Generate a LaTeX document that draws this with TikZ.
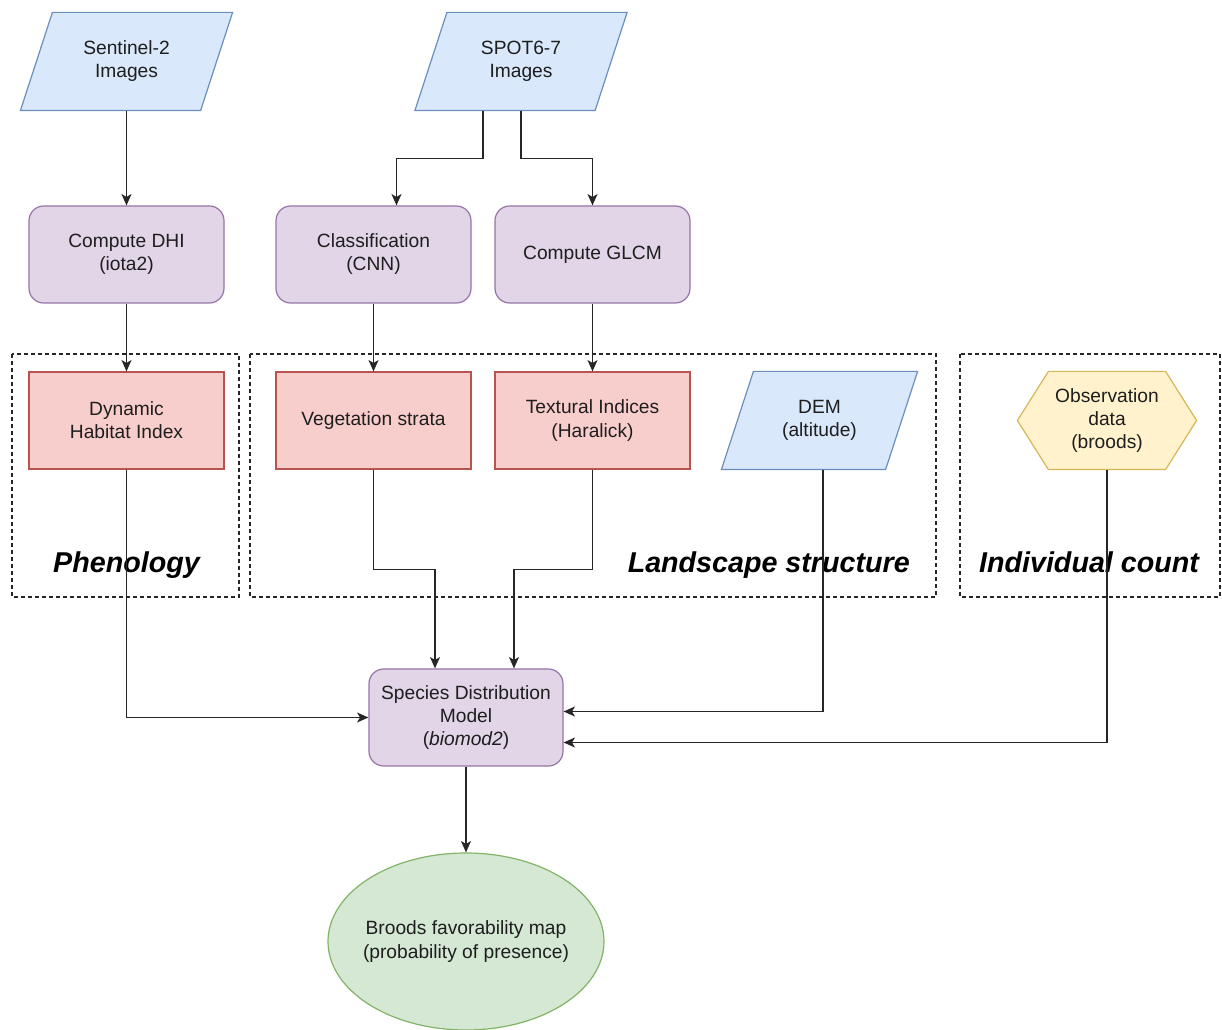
\documentclass[tikz,border=0pt]{standalone}
\usepackage{fontspec}
\setmainfont{Liberation Sans}
\usetikzlibrary{shapes.geometric,arrows.meta,backgrounds}
\definecolor{bfill}{HTML}{DAE8FC}
\definecolor{bstroke}{HTML}{6C8EBF}
\definecolor{pfill}{HTML}{E1D5E7}
\definecolor{pstroke}{HTML}{9673A6}
\definecolor{rfill}{HTML}{F8CECC}
\definecolor{rstroke}{HTML}{B85450}
\definecolor{yfill}{HTML}{FFF2CC}
\definecolor{ystroke}{HTML}{D6B656}
\definecolor{gfill}{HTML}{D5E8D4}
\definecolor{gstroke}{HTML}{82B366}
\definecolor{txt}{HTML}{1E1E1E}
\tikzset{
  base/.style={font=\fontsize{14.4}{17.3}\selectfont, text=txt, align=center, inner sep=0pt, line width=0.9pt},
  proc/.style={base, draw=pstroke, fill=pfill, rounded corners=11pt, minimum width=146.25pt, minimum height=72.75pt},
  prod/.style={base, draw=rstroke, fill=rfill, minimum width=146.25pt, minimum height=72.75pt},
  paranode/.style={base, minimum height=72.75pt},
  paraline/.style={fill=bfill, draw=bstroke, line width=0.9pt},
  frame/.style={draw=black!85, dash pattern=on 3pt off 2.25pt, line width=0.8pt},
  lbl/.style={font=\fontsize{21.5}{24}\selectfont\bfseries\itshape, text=black, inner sep=0pt, anchor=base},
  conn/.style={draw=black!85, line width=1.1pt, -{Stealth[length=8.5pt,width=7.5pt,inset=2.2pt]}},
}
\begin{document}
\begin{tikzpicture}[x=0.75pt,y=-0.75pt]
\useasboundingbox (0,0) rectangle (1222,1030);

% frames
\draw[frame] (12,354) rectangle (239,597);
\draw[frame] (250,354) rectangle (936,597);
\draw[frame] (960,354) rectangle (1220,597);

% frame labels
\node[lbl] (lphen) at (126.5,573) {Phenology};
\node[lbl, anchor=base east] (lland) at (910,573) {Landscape structure};
\node[lbl] (lind) at (1089,573) {Individual count};

% inputs
\node[paranode, minimum width=158.25pt] (s2) at (126.5,61.5) {Sentinel-2\\Images};
\node[paranode, minimum width=158.25pt] (spot) at (521,61.5) {SPOT6-7\\Images};
\node[paranode, minimum width=146.25pt] (dem) at (819.5,420.5) {DEM\\(altitude)};
\node[base, minimum width=133.5pt, minimum height=72.75pt] (obs) at (1107,420.5) {Observation\\data\\(broods)};

\begin{scope}[on background layer]
  \draw[paraline] ([xshift=24pt]s2.north west) -- (s2.north east) -- ([xshift=-24pt]s2.south east) -- (s2.south west) -- cycle;
  \draw[paraline] ([xshift=24pt]spot.north west) -- (spot.north east) -- ([xshift=-24pt]spot.south east) -- (spot.south west) -- cycle;
  \draw[paraline] ([xshift=24pt]dem.north west) -- (dem.north east) -- ([xshift=-24pt]dem.south east) -- (dem.south west) -- cycle;
  \draw[fill=yfill, draw=ystroke, line width=0.9pt] (obs.west) -- ([xshift=23.25pt]obs.north west) -- ([xshift=-23.25pt]obs.north east) -- (obs.east) -- ([xshift=-23.25pt]obs.south east) -- ([xshift=23.25pt]obs.south west) -- cycle;
\end{scope}

% processes
\node[proc] (dhi) at (126.5,254.5) {Compute DHI\\(iota2)};
\node[proc] (cls) at (373.5,254.5) {Classification\\(CNN)};
\node[proc] (glcm) at (592.5,254.5) {Compute GLCM};

% products
\node[prod] (dyn) at (126.5,420.5) {Dynamic\\Habitat Index};
\node[prod] (veg) at (373.5,420.5) {Vegetation strata};
\node[prod] (tex) at (592.5,420.5) {Textural Indices\\(Haralick)};

% model and output
\node[proc, minimum width=145.5pt] (sdm) at (466,717.5) {Species Distribution\\Model\\(\textit{biomod2})};
\node[base, ellipse, draw=gstroke, fill=gfill, minimum width=207pt, minimum height=132.75pt] (map) at (466,941.5) {};
\node[base] (maptext) at (map.center) {Broods favorability map\\(probability of presence)};

% connectors
\draw[conn] (s2.south) -- (dhi.north);
\draw[conn] ([xshift=-28.5pt]spot.south) -- ++(0,48) -| ([xshift=17.25pt]cls.north);
\draw[conn] (spot.south) -- ++(0,48) -| (glcm.north);
\draw[conn] (dhi.south) -- (dyn.north);
\draw[conn] (cls.south) -- (veg.north);
\draw[conn] (glcm.south) -- (tex.north);
\draw[conn] (dyn.south) |- (sdm.west);
\draw[conn] (veg.south) -- ++(0,100) -| ([xshift=-23.25pt]sdm.north);
\draw[conn] (tex.south) -- ++(0,100) -| ([xshift=36pt]sdm.north);
\draw[conn] ([xshift=2.5pt]dem.south) |- ([yshift=4.5pt]sdm.east);
\draw[conn] (obs.south) |- ([yshift=-18.75pt]sdm.east);
\draw[conn] (sdm.south) -- (map.north);
\end{tikzpicture}
\end{document}
